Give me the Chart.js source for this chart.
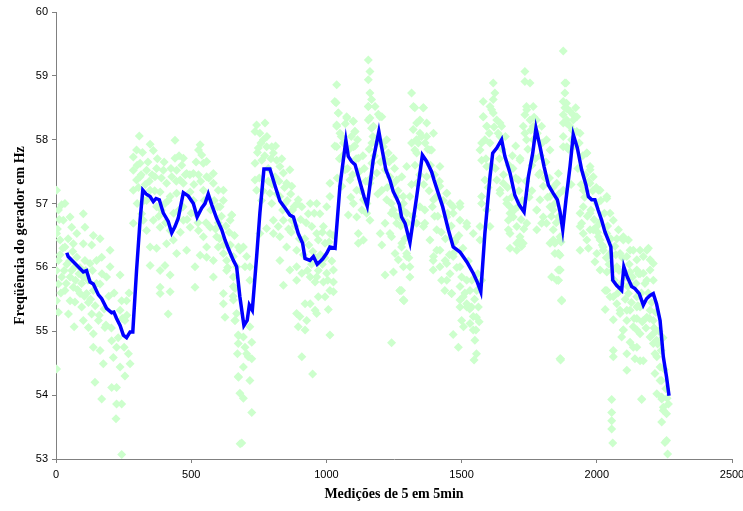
<!DOCTYPE html>
<html lang="pt">
<head>
<meta charset="UTF-8">
<script src="https://cdn.jsdelivr.net/npm/chart.js@4.4.0/dist/chart.umd.min.js"></script>
<title>Frequência do gerador</title>
<style>
  body { margin: 0; background: #fff; }
  canvas { display: block; }
</style>
</head>
<body>
<canvas id="grafico" width="743" height="511"></canvas>
<script>
// eixos
const ticksX = [0, 500, 1000, 1500, 2000, 2500];
const ticksY = [53, 54, 55, 56, 57, 58, 59, 60];

// média móvel (linha azul) [medição, Hz]
const mediaMovel = [
  [40,56.23],[45,56.17],[64,56.09],[101,55.93],[113,55.95],[126,55.77],[138,55.74],[157,55.57],[169,55.51],[187,55.36],
  [206,55.29],[214,55.30],[224,55.20],[237,55.09],[249,54.94],[261,54.90],[274,54.99],[284,54.99],[298,55.96],[311,56.74],
  [321,57.21],[333,57.15],[348,57.11],[360,57.03],[370,57.08],[382,57.06],[397,56.85],[415,56.72],[428,56.54],[440,56.64],
  [452,56.77],[471,57.17],[489,57.12],[508,57.00],[522,56.79],[539,56.93],[551,57.00],[563,57.15],[576,56.98],[594,56.77],
  [613,56.59],[625,56.43],[637,56.30],[656,56.11],[668,56.01],[680,55.54],[695,55.09],[707,55.17],[715,55.41],[726,55.33],
  [742,56.17],[754,56.85],[769,57.54],[791,57.54],[810,57.28],[828,57.04],[847,56.93],[865,56.82],[878,56.79],[896,56.53],
  [912,56.38],[921,56.14],[939,56.11],[952,56.17],[966,56.05],[986,56.13],[1001,56.22],[1013,56.32],[1032,56.30],[1050,57.27],
  [1072,57.99],[1081,57.74],[1093,57.66],[1106,57.61],[1124,57.34],[1139,57.11],[1151,56.96],[1173,57.68],[1194,58.13],[1204,57.89],
  [1220,57.53],[1235,57.37],[1247,57.19],[1260,57.08],[1270,56.98],[1278,56.79],[1291,56.69],[1309,56.39],[1334,57.11],[1355,57.76],
  [1371,57.66],[1389,57.50],[1398,57.37],[1414,57.16],[1430,56.95],[1451,56.59],[1469,56.32],[1494,56.24],[1519,56.09],[1543,55.91],
  [1558,55.77],[1571,55.62],[1586,56.53],[1605,57.42],[1615,57.79],[1630,57.87],[1648,58.00],[1660,57.74],[1679,57.48],[1697,57.13],
  [1713,56.98],[1731,56.87],[1747,57.42],[1763,57.79],[1775,58.18],[1790,57.89],[1805,57.58],[1821,57.29],[1839,57.16],[1854,57.06],
  [1864,56.87],[1874,56.59],[1886,57.06],[1901,57.58],[1913,58.08],[1928,57.87],[1944,57.53],[1960,57.29],[1969,57.11],[1981,57.06],
  [1993,57.06],[2005,56.90],[2018,56.74],[2030,56.56],[2042,56.43],[2052,56.32],[2059,55.80],[2073,55.72],[2092,55.64],[2100,56.01],
  [2113,55.85],[2129,55.70],[2141,55.67],[2157,55.59],[2172,55.41],[2184,55.51],[2197,55.56],[2209,55.59],[2221,55.43],[2234,55.17],
  [2246,54.60],[2258,54.28],[2267,53.99]
];

// leituras individuais (pontos verdes) [medição, Hz]
const leituras = [
  // 0 - 300
  [2,57.21],[2,54.41],[21,56.98],[33,57.00],[9,56.90],[27,56.74],[2,56.53],[15,56.43],[33,56.32],[9,56.11],
  [2,55.95],[21,55.85],[9,55.74],[33,55.64],[2,55.48],[9,55.30],[46,55.27],[52,55.48],[64,55.69],[52,55.85],
  [70,56.01],[77,56.16],[64,56.37],[77,56.53],[52,56.79],[58,56.63],[101,56.84],[107,56.63],[101,56.37],[132,56.35],
  [138,56.50],[163,56.45],[107,56.11],[126,56.06],[150,56.11],[169,56.16],[200,56.27],[101,55.85],[89,55.59],[70,55.46],
  [95,55.38],[101,55.17],[67,55.07],[113,55.59],[138,55.64],[163,55.74],[187,55.85],[200,56.01],[237,55.88],[132,55.27],
  [120,55.06],[138,54.96],[157,55.17],[181,55.06],[138,54.75],[163,54.70],[175,54.49],[144,54.20],[206,54.85],[224,54.75],
  [212,54.59],[237,54.44],[206,54.12],[224,54.12],[255,54.30],[169,53.94],[224,53.86],[243,53.86],[222,53.63],[243,53.07],
  [268,54.65],[261,55.48],[243,55.48],[237,55.33],[255,55.17],[274,54.49],[15,56.20],[40,56.05],[85,55.90],[120,55.45],
  [5,56.60],[12,56.75],[18,55.60],[25,56.30],[30,55.95],[38,55.75],[45,56.45],[50,56.10],[58,55.95],[62,56.25],
  [72,55.80],[80,55.65],[88,56.00],[95,55.75],[105,55.55],[110,55.95],[118,55.80],[128,55.50],[135,55.95],[145,55.40],
  [150,55.75],[160,55.25],[170,55.90],[178,55.35],[185,55.10],[195,55.55],[205,55.05],[215,55.60],[230,54.90],[245,55.20],
  [252,54.75],[262,55.25],[270,55.60],
  // 280 - 700
  [308,58.06],[348,57.93],[360,57.83],[298,57.84],[286,57.73],[311,57.63],[286,57.52],[335,57.52],[372,57.55],[397,57.52],
  [366,57.42],[311,57.42],[286,57.21],[298,57.37],[440,57.99],[440,57.71],[471,57.71],[465,57.60],[446,57.52],[428,57.42],
  [483,57.47],[508,57.47],[533,57.92],[527,57.84],[539,57.76],[545,57.63],[557,57.66],[582,57.47],[557,57.42],[527,57.45],
  [459,57.37],[409,57.32],[385,57.18],[348,57.21],[335,57.05],[372,56.95],[403,57.00],[422,57.11],[446,57.16],[471,57.32],
  [496,57.18],[508,57.05],[545,57.21],[582,57.32],[600,57.21],[619,57.21],[619,57.05],[650,56.82],[644,56.74],[607,56.95],
  [317,56.84],[286,56.69],[335,56.58],[360,56.74],[323,56.74],[385,56.63],[422,56.58],[471,56.74],[496,56.63],[527,56.58],
  [545,56.48],[570,56.63],[557,56.32],[594,56.48],[600,56.32],[619,56.22],[631,56.11],[631,55.95],[656,55.85],[662,55.67],
  [619,55.59],[619,55.43],[625,55.22],[662,55.17],[675,56.32],[675,54.93],[675,54.28],[681,53.24],[348,56.32],[372,56.30],
  [409,56.37],[434,56.43],[348,56.03],[385,55.95],[403,56.03],[422,55.88],[385,55.69],[422,55.62],[385,55.59],[415,55.27],
  [514,56.01],[514,55.69],[446,56.22],[483,56.27],[533,56.19],[582,55.85],[582,56.11],[557,56.16],[300,57.00],[330,57.30],
  [390,56.90],[455,56.90],[515,56.85],[600,56.70],[640,56.55],
  [300,57.60],[305,57.25],[315,57.45],[320,57.80],[325,57.05],[340,57.65],[345,57.35],[355,57.45],[365,57.20],[375,57.70],
  [380,56.80],[390,57.40],[400,57.65],[405,56.70],[415,57.05],[425,57.55],[435,56.85],[445,57.35],[455,57.75],[460,56.55],
  [470,56.95],[478,57.45],[485,56.75],[495,57.45],[500,56.85],[510,57.30],[518,57.65],[525,56.70],[535,57.35],[548,57.05],
  [555,56.70],[565,57.40],[572,56.90],[585,57.05],[590,56.60],[598,56.95],[605,56.45],[612,56.80],[620,56.35],[628,56.65],
  [635,56.00],[645,56.35],[655,55.55],[660,56.50],
  // 650 - 1030
  [650,56.82],[656,56.17],[668,56.01],[680,56.27],[693,56.32],[705,56.17],[699,56.01],[717,56.01],[717,55.80],[656,55.70],
  [656,55.49],[668,55.28],[662,55.17],[717,55.07],[674,54.94],[693,54.91],[674,54.81],[699,54.75],[671,54.65],[705,54.65],
  [724,54.57],[711,54.60],[724,54.83],[693,54.44],[674,54.29],[717,54.23],[680,54.03],[693,53.95],[724,53.73],[687,53.25],
  [742,58.23],[773,58.26],[736,58.13],[754,58.10],[767,58.00],[748,57.87],[779,57.89],[798,57.89],[804,57.79],[736,57.63],
  [761,57.68],[816,57.68],[828,57.58],[736,57.37],[742,57.21],[810,57.42],[841,57.48],[865,57.53],[853,57.32],[872,57.27],
  [791,57.16],[828,57.11],[798,57.00],[847,57.00],[896,57.06],[804,56.74],[841,56.74],[872,56.74],[909,56.95],[940,57.00],
  [964,57.00],[933,56.84],[976,56.84],[1001,56.95],[1013,57.11],[1013,57.32],[779,56.61],[754,56.53],[804,56.53],[828,56.48],
  [822,56.64],[853,56.32],[890,56.27],[946,56.64],[964,56.53],[989,56.64],[1013,56.53],[970,56.43],[995,56.38],[828,56.11],
  [865,55.96],[890,56.01],[890,55.80],[909,55.91],[940,55.85],[964,55.85],[1001,55.91],[1026,55.96],[958,55.77],[989,55.77],
  [841,55.72],[1026,55.77],[1013,55.64],[1026,55.62],[921,55.43],[940,55.43],[970,55.54],[995,55.54],[958,55.33],[890,55.28],
  [902,55.23],[927,55.17],[964,55.28],[1007,55.34],[896,55.07],[921,55.02],[1013,54.94],[909,54.60],[949,54.33],[760,57.05],
  [785,57.35],[880,56.95],[920,56.45],[950,56.25],[985,56.05],[870,56.55],
  [745,57.80],[752,57.40],[758,57.95],[765,57.20],[772,57.75],[780,58.05],[785,57.55],[795,57.70],[800,57.30],[812,57.90],
  [818,57.15],[825,57.35],[835,57.70],[838,56.90],[845,57.25],[855,57.05],[860,56.60],[868,57.15],[875,56.90],[885,56.65],
  [892,57.00],[900,56.45],[905,56.75],[915,56.20],[925,56.70],[930,55.95],[935,56.35],[945,56.05],[955,56.85],[960,56.15],
  [970,55.95],[978,56.20],[985,56.55],[995,56.15],[1005,55.80],[1010,56.40],[1020,56.10],[1025,56.50],
  // 1030 - 1310
  [1036,58.58],[1044,58.42],[1075,58.36],[1100,58.29],[1038,58.23],[1050,58.10],[1106,58.13],[1038,57.89],[1100,57.89],[1118,57.71],
  [1069,57.53],[1087,57.37],[1112,57.21],[1057,57.27],[1137,57.06],[1100,57.00],[1112,56.79],[1081,56.82],[1131,56.90],[1149,56.85],
  [1161,56.74],[1118,56.53],[1137,56.43],[1118,56.38],[1155,58.52],[1180,58.52],[1155,58.31],[1174,58.21],[1205,58.36],[1168,57.95],
  [1168,57.63],[1161,57.32],[1211,57.89],[1229,57.79],[1248,57.71],[1217,57.53],[1186,57.48],[1235,57.42],[1260,57.37],[1279,57.42],
  [1205,57.21],[1223,57.06],[1260,57.11],[1248,56.90],[1285,57.00],[1260,56.69],[1217,56.69],[1199,56.53],[1205,56.35],[1235,56.53],
  [1241,56.48],[1254,56.22],[1279,56.38],[1297,56.22],[1266,56.12],[1285,56.01],[1217,55.88],[1248,55.93],[1272,55.64],[1285,55.49],
  [1241,54.82],[1038,58.86],[1031,58.60],[1044,58.42],[1075,58.34],[1099,58.29],[1038,58.21],[1105,58.13],[1031,57.90],[1105,57.90],
  [1155,59.25],[1161,59.07],[1155,58.94],[1161,58.73],[1167,58.63],[1155,58.52],[1161,58.34],[1198,58.36],[1167,58.18],[1223,58.00],
  [1060,57.75],[1090,57.10],[1140,57.55],[1190,57.15],[1240,57.00],[1270,56.80],
  [1040,57.40],[1048,57.70],[1055,58.05],[1063,57.95],[1070,58.25],[1078,57.55],[1085,57.85],[1092,58.05],[1097,57.45],[1110,57.70],
  [1115,58.00],[1122,57.50],[1128,57.20],[1135,57.75],[1145,57.35],[1150,57.00],[1158,57.85],[1165,57.40],[1172,58.05],[1178,57.75],
  [1185,57.95],[1192,58.40],[1200,57.65],[1208,57.95],[1215,57.70],[1225,57.25],[1232,57.65],[1240,56.85],[1245,57.30],[1252,57.55],
  [1258,56.80],[1265,57.20],[1275,56.65],[1282,56.90],[1290,56.45],[1300,56.70],[1305,56.15],
  // 1270 - 1580
  [1315,58.73],[1327,58.50],[1358,58.50],[1346,58.31],[1321,58.16],[1346,58.10],[1371,58.05],[1333,58.00],[1383,57.84],[1327,57.84],
  [1322,58.52],[1359,58.50],[1334,58.26],[1371,58.26],[1315,57.95],[1396,58.10],[1334,57.79],[1389,57.84],[1297,57.58],[1371,57.42],
  [1420,57.58],[1334,57.32],[1309,57.11],[1420,57.27],[1445,57.16],[1396,57.06],[1346,56.95],[1469,56.95],[1494,57.00],[1445,56.79],
  [1334,56.69],[1359,56.64],[1285,56.74],[1494,56.74],[1519,56.64],[1543,56.53],[1568,56.64],[1408,56.27],[1439,56.11],[1469,56.17],
  [1494,56.01],[1519,55.80],[1445,55.80],[1463,55.59],[1494,55.49],[1519,55.38],[1543,55.23],[1507,55.07],[1543,55.02],[1562,55.38],
  [1556,55.64],[1574,55.80],[1420,56.01],[1396,56.17],[1285,55.49],[1272,55.64],[1284,57.11],[1297,56.85],[1278,56.32],[1297,56.17],
  [1309,56.01],[1309,55.85],[1278,55.64],[1287,55.48],[1364,56.90],[1364,56.69],[1383,56.43],[1408,56.59],[1395,56.11],[1395,55.96],
  [1420,56.27],[1426,55.80],[1445,56.06],[1469,56.22],[1457,55.90],[1438,55.64],[1463,55.59],[1494,55.70],[1506,55.54],[1531,55.64],
  [1494,55.38],[1519,55.43],[1537,55.38],[1500,55.17],[1531,55.12],[1555,55.22],[1469,54.95],[1553,55.02],[1488,54.75],[1549,54.86],
  [1555,54.65],[1546,54.55],[1469,56.85],[1494,56.95],[1519,56.69],[1457,57.00],[1445,57.16],[1574,57.00],[1400,56.80],[1480,56.45],
  [1315,57.30],[1320,56.80],[1328,57.60],[1340,57.95],[1345,57.45],[1352,58.05],[1360,57.30],[1365,57.95],[1375,57.85],[1380,57.20],
  [1385,57.60],[1392,56.95],[1400,57.45],[1405,57.10],[1412,56.80],[1418,57.35],[1425,56.55],[1432,57.05],[1440,56.45],[1448,56.85],
  [1455,56.20],[1462,56.65],[1475,56.40],[1482,56.00],[1490,56.50],[1500,55.85],[1505,56.30],[1512,55.60],[1525,56.10],[1530,55.35],
  [1538,55.80],[1548,55.50],[1560,55.90],[1565,55.15],
  // 1560 - 1880
  [1580,58.60],[1617,58.89],[1623,58.73],[1617,58.63],[1611,58.47],[1580,58.36],[1630,58.31],[1648,58.21],[1593,58.21],[1586,58.00],
  [1642,58.05],[1568,57.84],[1716,57.71],[1734,59.07],[1734,58.91],[1753,58.89],[1740,58.52],[1765,58.52],[1734,58.39],[1777,58.31],
  [1765,58.21],[1796,58.21],[1728,58.21],[1740,58.00],[1814,58.00],[1827,57.84],[1580,58.36],[1605,58.52],[1593,58.21],[1617,58.42],
  [1574,57.95],[1574,57.68],[1593,57.58],[1642,58.26],[1605,57.95],[1586,57.37],[1574,57.11],[1593,56.90],[1605,56.64],[1568,56.43],
  [1630,57.37],[1642,57.16],[1667,57.06],[1654,57.32],[1679,56.95],[1691,56.79],[1704,56.64],[1716,56.43],[1704,56.27],[1722,56.33],
  [1673,56.74],[1679,56.53],[1716,57.68],[1710,57.37],[1741,58.47],[1753,58.31],[1734,58.10],[1765,58.00],[1790,57.48],[1802,57.27],
  [1790,57.06],[1778,56.90],[1796,56.69],[1827,57.11],[1827,56.95],[1852,57.32],[1839,56.59],[1827,56.38],[1864,56.43],[1858,56.22],
  [1864,55.96],[1858,55.80],[1870,55.49],[1864,54.57],[1642,57.21],[1667,57.00],[1679,56.85],[1673,56.59],[1679,56.30],[1704,56.38],
  [1728,56.38],[1716,56.48],[1741,56.69],[1778,56.90],[1802,56.79],[1814,56.69],[1778,56.59],[1839,56.43],[1858,56.22],[1833,55.85],
  [1858,55.80],[1864,55.96],[1870,55.48],[1866,54.55],[1700,57.90],[1760,57.20],[1690,57.55],
  [1590,57.70],[1598,57.25],[1602,58.10],[1610,57.60],[1620,58.20],[1625,57.55],[1635,58.10],[1640,57.70],[1650,57.85],[1655,57.45],
  [1662,58.05],[1670,57.25],[1675,57.60],[1685,57.10],[1688,57.75],[1695,56.90],[1700,57.40],[1708,56.95],[1712,57.20],[1720,56.75],
  [1725,57.05],[1730,56.60],[1738,57.35],[1745,57.85],[1750,57.10],[1756,58.15],[1760,57.60],[1768,58.35],[1772,57.70],[1780,58.10],
  [1785,57.45],[1792,57.75],[1798,57.95],[1808,57.40],[1812,57.65],[1818,57.10],[1825,57.40],[1832,56.80],[1838,57.25],[1845,57.00],
  [1850,56.70],[1860,57.15],[1868,56.40],
  // 1870 - 2270
  [1876,59.39],[1886,58.89],[1882,58.73],[1888,58.57],[1882,58.50],[1888,58.26],[1913,58.31],[1876,58.05],[1907,58.00],[1876,57.89],
  [1882,58.89],[1876,58.60],[1889,58.49],[1876,58.39],[1913,58.39],[1876,58.26],[1901,58.21],[1926,58.13],[1889,57.89],[1963,57.79],
  [1858,57.47],[1975,57.53],[1987,57.42],[1975,57.32],[2006,57.21],[1950,57.21],[1876,57.21],[1839,56.90],[1858,56.79],[2037,57.08],
  [1950,56.95],[1975,56.85],[2049,56.85],[1944,56.69],[1950,56.53],[1975,56.59],[2000,56.64],[2006,56.48],[2037,56.53],[2080,56.59],
  [2074,56.45],[2098,56.48],[2117,56.43],[1845,56.38],[1864,56.48],[1845,56.22],[1864,56.19],[1938,56.27],[1969,56.30],[2000,56.22],
  [2024,56.32],[2049,56.22],[2123,56.27],[2086,56.22],[2160,56.27],[2191,56.30],[2148,56.12],[2172,56.17],[2197,56.12],[1858,55.96],
  [1852,55.80],[1993,56.09],[2012,55.96],[2037,55.93],[2074,56.01],[2123,55.93],[2148,55.96],[2172,55.91],[2197,55.96],[2209,55.80],
  [2031,55.64],[2049,55.54],[1870,55.48],[2074,55.43],[2117,55.59],[2148,55.54],[2031,55.34],[2086,55.33],[2123,55.33],[2160,55.38],
  [2197,55.33],[2061,55.18],[2111,55.17],[2148,55.20],[2172,55.17],[2209,55.17],[2098,55.02],[2135,55.07],[2160,54.96],[2197,54.91],
  [2092,54.91],[2123,54.83],[2148,54.75],[2209,54.81],[2061,54.70],[2061,54.60],[2141,54.57],[2172,54.54],[1866,54.57],[2222,54.60],
  [2111,54.39],[2215,54.34],[2234,54.23],[2222,54.02],[2240,53.94],[2166,53.93],[2055,53.93],[2246,53.76],[2055,53.73],[2258,53.71],
  [2055,53.60],[2240,53.58],[2055,53.47],[2252,53.26],[2258,53.29],[2059,53.25],[2262,53.08],[2265,53.86],[1938,58.10],[1963,57.79],
  [1975,57.58],[2012,57.21],[2037,57.11],[2000,57.00],[1938,56.85],[1938,56.64],[1963,56.43],[1987,56.59],[2012,56.43],[2024,56.27],
  [2061,56.74],[2067,56.33],[2098,56.43],[2111,56.17],[2135,56.27],[2185,56.27],[2209,56.06],[2160,55.90],[2185,55.80],[2037,55.64],
  [2061,55.54],[2086,55.28],[2111,55.33],[2148,55.38],[2185,55.22],[2148,55.02],[2135,54.75],[2098,55.02],[2111,54.65],[2160,54.54],
  [2209,54.96],[2221,54.86],[2215,54.65],[2234,54.44],[2240,54.23],[2166,53.94],[2240,53.97],[2246,53.81],[1926,58.36],[1889,58.31],
  [1895,57.85],[1900,58.45],[1905,57.30],[1910,58.15],[1918,57.90],[1922,58.50],[1930,57.55],[1935,57.95],[1942,57.30],[1948,57.75],
  [1955,57.10],[1958,57.45],[1965,56.80],[1970,57.35],[1978,56.90],[1985,57.20],[1990,56.75],[1998,57.25],[2003,56.55],[2010,56.70],
  [2015,57.05],[2020,56.35],[2028,56.85],[2035,56.15],[2040,56.65],[2045,56.05],[2052,56.45],[2058,55.95],[2065,55.80],[2070,56.20],
  [2078,55.60],[2082,55.95],[2090,55.75],[2095,56.15],[2105,55.50],[2108,55.85],[2115,55.70],[2120,56.05],[2128,55.45],[2132,55.85],
  [2138,55.20],[2145,55.75],[2152,55.40],[2155,55.90],[2165,55.60],[2168,55.15],[2178,55.75],[2182,55.05],[2190,55.60],[2195,55.20],
  [2203,55.45],[2212,55.05],[2218,55.30],[2225,54.80],[2230,55.00],[2238,54.70],[2245,54.90],[2250,54.40],[2255,54.10],[2260,53.95]
];

const pontos = leituras.map(p => ({x: p[0], y: p[1]}));
const linha = mediaMovel.map(p => ({x: p[0], y: p[1]}));

const corEixo = '#808080';

new Chart(document.getElementById('grafico').getContext('2d'), {
  type: 'scatter',
  data: {
    datasets: [
      {
        data: linha,
        showLine: true,
        borderColor: '#0000ff',
        borderWidth: 3.5,
        pointRadius: 0,
        tension: 0
      },
      {
        data: pontos,
        pointStyle: 'rectRot',
        pointRadius: 4.5,
        backgroundColor: '#ccffcc',
        borderColor: '#ccffcc',
        borderWidth: 0
      }
    ]
  },
  options: {
    responsive: false,
    animation: false,
    devicePixelRatio: 1,
    layout: { padding: { left: 0, right: 11, top: 12, bottom: 0 } },
    plugins: { legend: { display: false }, tooltip: { enabled: false } },
    scales: {
      x: {
        type: 'linear',
        min: 0, max: 2500,
        afterBuildTicks: s => { s.ticks = ticksX.map(v => ({value: v})); },
        afterFit: s => { s.height = 52; s.paddingLeft = 0; s.paddingRight = 0; },
        grid: { drawOnChartArea: false, drawTicks: true, tickLength: 4, color: corEixo },
        border: { color: corEixo, width: 1 },
        ticks: {
          color: '#000', padding: 5, maxRotation: 0,
          callback: v => String(v),
          font: { family: 'Liberation Sans, Arial', size: 11 }
        },
        title: {
          display: true,
          text: 'Medições de 5 em 5min',
          color: '#000',
          padding: { top: 0, bottom: 8 },
          font: { family: 'Liberation Serif, Times New Roman', size: 14, weight: 'bold' }
        }
      },
      y: {
        min: 53, max: 60,
        afterBuildTicks: s => { s.ticks = ticksY.map(v => ({value: v})); },
        afterFit: s => { s.width = 56; s.paddingTop = 0; s.paddingBottom = 0; },
        grid: { drawOnChartArea: false, drawTicks: true, tickLength: 4, color: corEixo },
        border: { color: corEixo, width: 1 },
        ticks: {
          color: '#000', padding: 4,
          callback: v => String(v),
          font: { family: 'Liberation Sans, Arial', size: 11 }
        },
        title: {
          display: true,
          text: 'Freqüência do gerador em Hz',
          color: '#000',
          padding: { top: 12, bottom: 0 },
          font: { family: 'Liberation Serif, Times New Roman', size: 14, weight: 'bold' }
        }
      }
    }
  }
});
</script>
</body>
</html>
